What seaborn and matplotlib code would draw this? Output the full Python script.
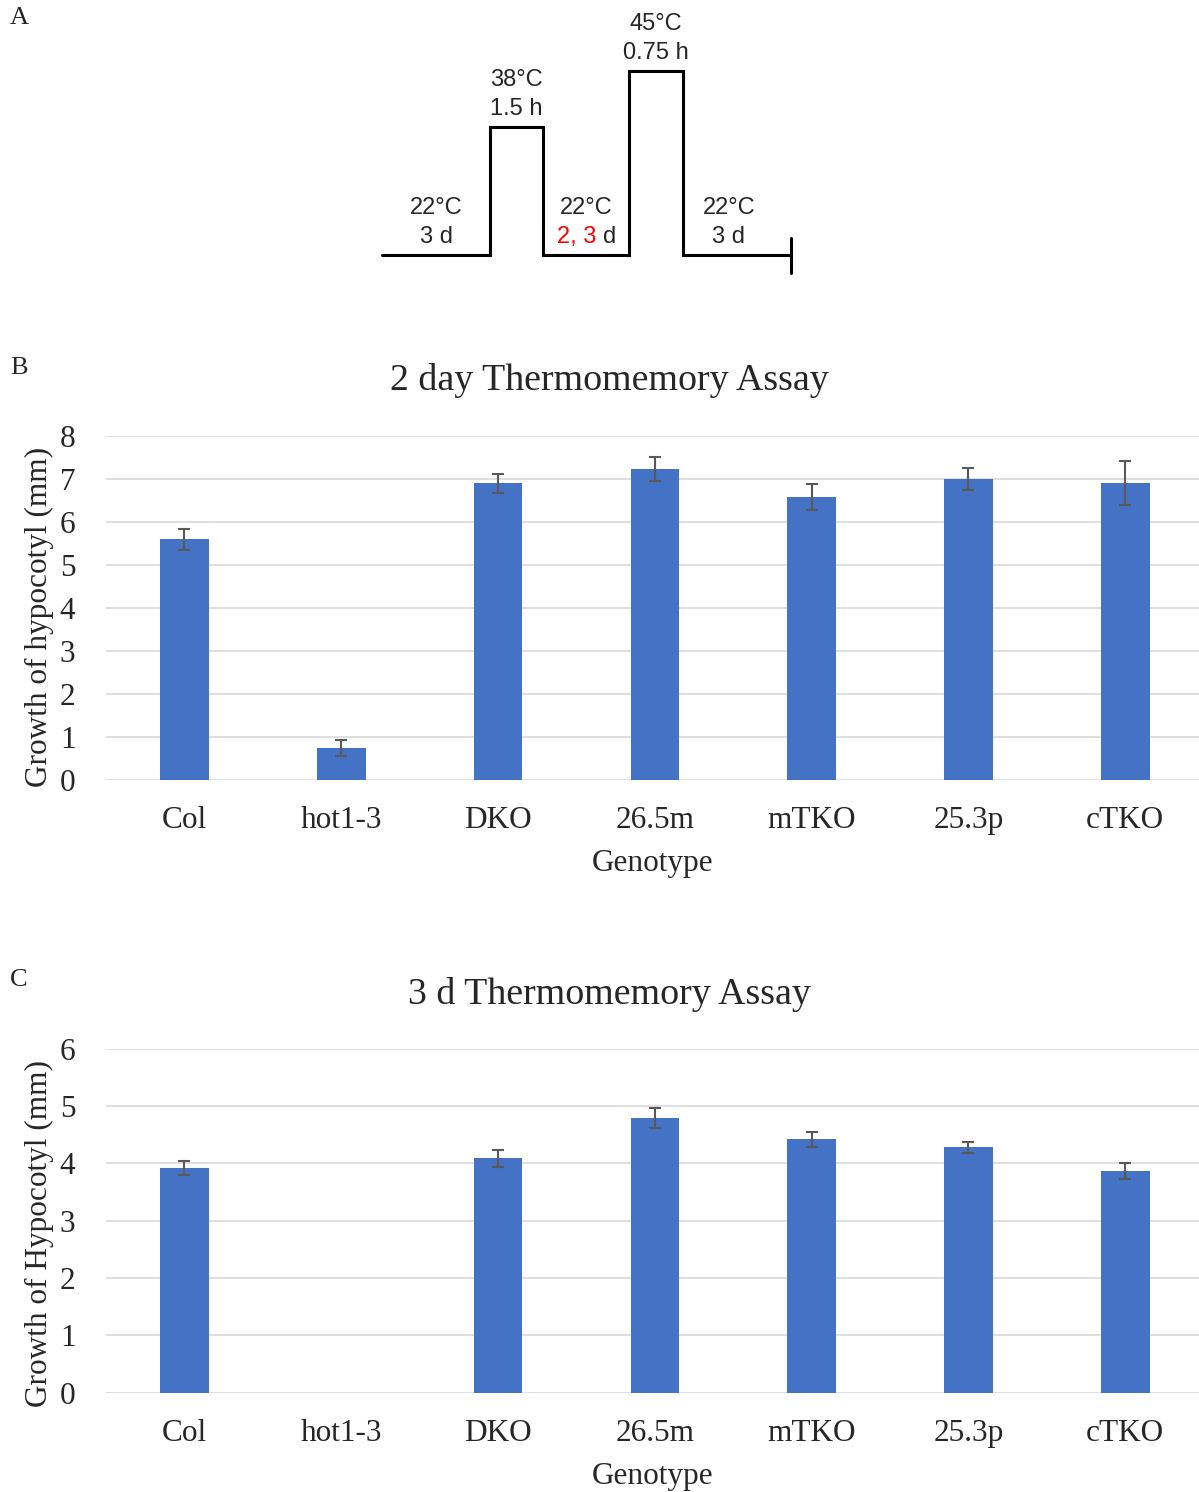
import numpy as np
import pandas as pd
import matplotlib
matplotlib.use("Agg")
import matplotlib.pyplot as plt
import seaborn as sns

# ---- data -------------------------------------------------------------
genotypes = ["Col", "hot1-3", "DKO", "26.5m", "mTKO", "25.3p", "cTKO"]

growth_2d = [5.59, 0.74, 6.90, 7.22, 6.57, 6.99, 6.91]
err_2d = [0.24, 0.18, 0.22, 0.28, 0.30, 0.25, 0.51]

growth_3d = [3.92, np.nan, 4.09, 4.79, 4.42, 4.28, 3.87]
err_3d = [0.13, np.nan, 0.15, 0.17, 0.13, 0.10, 0.145]

# heat-treatment schedule (schematic): temperature of each stage,
# drawn width of each stage, and its labels
stage_temp = [22, 38, 22, 45, 22]
stage_width = [108, 53, 86, 54, 108]
stage_time = ["3 d", "1.5 h", "2, 3 d", "0.75 h", "3 d"]

BAR = "#4472C4"
ERR = "#595959"
GRID = "#d9d9d9"
SERIF = ["Liberation Serif", "DejaVu Serif"]
SANS = ["Liberation Sans", "DejaVu Sans"]

sns.set_style("white")
plt.rcParams["font.family"] = SERIF

W, H = 1199, 1492
fig = plt.figure(figsize=(W / 100, H / 100), dpi=100)

# ---- panel A: heat-treatment schedule ---------------------------------
axA = fig.add_axes([0, 1 - 300 / H, 1, 300 / H])
axA.set_xlim(0, W)
px_per_deg = 8.0
axA.set_ylim(22 - 45 / px_per_deg, 22 + 255 / px_per_deg)
axA.axis("off")

x0 = 382
xs, ys = [], []
edges = np.concatenate([[x0], x0 + np.cumsum(stage_width)])
for i, t in enumerate(stage_temp):
    xs += [edges[i], edges[i + 1]]
    ys += [t, t]
axA.plot(xs, ys, color="black", lw=2.2, solid_joinstyle="miter")
axA.plot([edges[-1], edges[-1]], [stage_temp[-1] - 2.25, stage_temp[-1] + 2.1],
         color="black", lw=2.2)

label_shift = [0, 0, 0, 0, -8]   # horizontal nudge of each stage label
txt = dict(fontsize=17, family=SANS, va="center", textcoords="offset points")
for i, (t, lab) in enumerate(zip(stage_temp, stage_time)):
    cx = (edges[i] + edges[i + 1]) / 2 + label_shift[i]
    axA.annotate(f"{t}°C", (cx, t), xytext=(0, 34.2), ha="center", **txt)
    if i == 2:
        # duration given in red, unit in black
        axA.annotate("2, 3", (cx + 10, t), xytext=(0, 12.8), ha="right",
                     color="#ff0000", **txt)
        axA.annotate("d", (cx + 16.5, t), xytext=(0, 12.8), ha="left", **txt)
    else:
        axA.annotate(lab, (cx, t), xytext=(0, 12.8), ha="center", **txt)

fig.text(10 / W, 1 - 18 / H, "A", fontsize=19, va="center", ha="left")


# ---- panels B and C: hypocotyl growth ----------------------------------
def growth_panel(rect, values, errors, ymax, title, ylabel, title_y, letter, letter_y, ylab_y):
    ax = fig.add_axes(rect)
    df = pd.DataFrame({"Genotype": genotypes, "Growth": values})
    sns.barplot(data=df, x="Genotype", y="Growth", color=BAR, saturation=1,
                width=0.31, linewidth=0, errorbar=None, ax=ax)
    ax.errorbar(np.arange(len(genotypes)), values, yerr=errors, fmt="none",
                ecolor=ERR, elinewidth=1.5, capsize=4, capthick=1.5, zorder=3)
    ax.set_xlim(-0.5, 6.47)
    ax.set_ylim(0, ymax)
    ax.set_yticks(range(0, ymax + 1))
    ax.yaxis.grid(True, color=GRID, linewidth=1.2)
    ax.set_axisbelow(True)
    for s in ax.spines.values():
        s.set_visible(False)
    ax.tick_params(axis="both", length=0, labelsize=22.5)
    ax.tick_params(axis="x", pad=19)
    ax.tick_params(axis="y", pad=22)
    ax.set_xlabel("Genotype", fontsize=22.5, labelpad=10)
    ax.set_ylabel(ylabel, fontsize=22.5)
    ax.yaxis.set_label_coords(-0.048, ylab_y)
    fig.text(609 / W, 1 - title_y / H, title, fontsize=27.3, ha="center", va="center")
    fig.text(10 / W, 1 - letter_y / H, letter, fontsize=19, ha="left", va="center")
    return ax


left = 106 / W
width = 1 - left
growth_panel([left, 1 - 780 / H, width, 344.3 / H], growth_2d, err_2d, 8,
             "2 day Thermomemory Assay", "Growth of hypocotyl (mm)", 381, "B", 368, 0.473)
growth_panel([left, 1 - 1392.7 / H, width, 344 / H], growth_3d, err_3d, 6,
             "3 d Thermomemory Assay", "Growth of Hypocotyl (mm)", 994, "C", 980, 0.464)

fig.savefig("out.png", dpi=100, facecolor="white")
